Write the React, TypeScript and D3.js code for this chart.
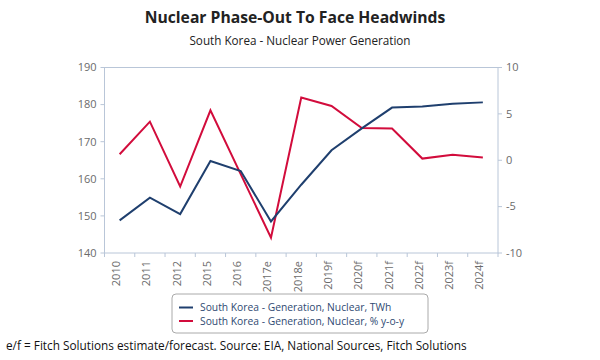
import React from "react";
import * as d3 from "d3";

const categories = ["2010", "2011", "2012", "2015", "2016", "2017e", "2018e", "2019f", "2020f", "2021f", "2022f", "2023f", "2024f"];
const generationTWh = [148.8, 154.9, 150.5, 164.8, 162.1, 148.5, 158.4, 167.7, 173.6, 179.2, 179.5, 180.2, 180.6];
const growthPct = [0.65, 4.16, -2.83, 5.38, -1.5, -8.35, 6.77, 5.85, 3.47, 3.43, 0.18, 0.58, 0.29];
const leftTicks = [140, 150, 160, 170, 180, 190];
const rightTicks = [-10, -5, 0, 5, 10];
const seriesNames = ["South Korea - Generation, Nuclear, TWh", "South Korea - Generation, Nuclear, % y-o-y"];

const W = 600, H = 360;
const L = 104.5, R = 498, T = 67.5, B = 253;
const BLUE = "#1f3f6e";
const RED = "#d20c3c";
const AXIS = "#b9c6d8";
const TXT = "#6b6b6b";
const FONT = "'Open Sans', 'Noto Sans', sans-serif";

export default function App() {
  const x = d3.scaleBand<string>().domain(categories).range([L, R]);
  const yL = d3.scaleLinear().domain([140, 190]).range([B, T]);
  const yR = d3.scaleLinear().domain([-10, 10]).range([B, T]);
  const cx = (c: string) => (x(c) as number) + x.bandwidth() / 2;
  const lineL = d3.line<number>().x((_, i) => cx(categories[i])).y((d) => yL(d));
  const lineR = d3.line<number>().x((_, i) => cx(categories[i])).y((d) => yR(d));
  const tickXs = categories.map((c) => x(c) as number).concat([R]);

  return (
    <svg width={W} height={H} style={{ position: "absolute", left: 0, top: 0, fontFamily: FONT }}>
      <rect x={0} y={0} width={W} height={H} fill="#fff" />
      <text x={295} y={23} textAnchor="middle" fontSize={15.7} fontWeight="bold" fill="#222">Nuclear Phase-Out To Face Headwinds</text>
      <text x={300} y={45} textAnchor="middle" fontSize={11.7} fill="#222">South Korea - Nuclear Power Generation</text>

      <rect x={L} y={T} width={R - L} height={B - T} fill="none" stroke={AXIS} strokeWidth={1} />
      {leftTicks.map((t) => (
        <g key={"l" + t}>
          <line x1={L - 4} x2={L} y1={yL(t)} y2={yL(t)} stroke={AXIS} />
          <text x={L - 8} y={yL(t)} dy="0.35em" textAnchor="end" fontSize={11} fill={TXT}>{t}</text>
        </g>
      ))}
      {rightTicks.map((t) => (
        <g key={"r" + t}>
          <line x1={R} x2={R + 4} y1={yR(t)} y2={yR(t)} stroke={AXIS} />
          <text x={R + 8} y={yR(t)} dy="0.35em" textAnchor="start" fontSize={11} fill={TXT}>{t}</text>
        </g>
      ))}
      {tickXs.map((tx, i) => (
        <line key={"xt" + i} x1={tx} x2={tx} y1={B} y2={B + 4} stroke={AXIS} />
      ))}
      {categories.map((c) => (
        <text key={c} transform={`translate(${cx(c) + 0.5},${B + 8}) rotate(-90)`} textAnchor="end" fontSize={11} fill={TXT}>{c}</text>
      ))}

      <path d={lineR(growthPct) || ""} fill="none" stroke={RED} strokeWidth={2} strokeLinejoin="miter" />
      <path d={lineL(generationTWh) || ""} fill="none" stroke={BLUE} strokeWidth={2} />

      <rect x={172} y={294} width={256} height={39} rx={4} fill="#fff" stroke="#aaa" />
      {seriesNames.map((s, i) => (
        <g key={s}>
          <line x1={179} x2={193} y1={307.5 + i * 13.5} y2={307.5 + i * 13.5} stroke={i === 0 ? BLUE : RED} strokeWidth={2} />
          <text x={200} y={307.5 + i * 13.5} dy="0.35em" fontSize={10.3} fill="#2f4a72">{s}</text>
        </g>
      ))}

      <text x={6} y={350} fontSize={11.8} fill="#111">e/f = Fitch Solutions estimate/forecast. Source: EIA, National Sources, Fitch Solutions</text>
    </svg>
  );
}
